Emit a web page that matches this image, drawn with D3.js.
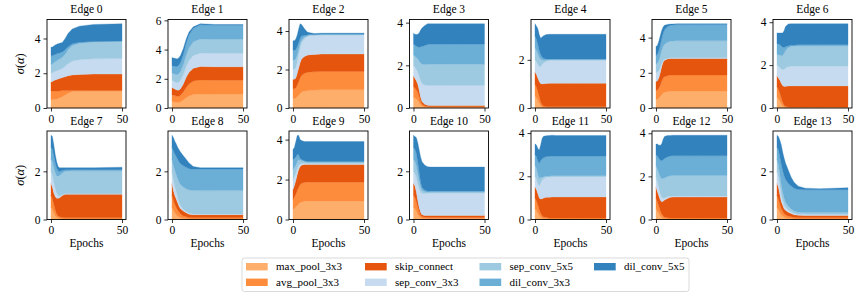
<html lang="en">
<head>
<meta charset="utf-8">
<script src="https://d3js.org/d3.v7.min.js"></script>
<style>
  body { margin: 0; background: #fff; }
  text { font-family: "Liberation Serif", "DejaVu Serif", serif; }
</style>
</head>
<body>
<svg id="chart" width="856" height="295"></svg>
<script>
const epochs = [0, 1, 2, 3, 4, 5, 6, 8, 10, 12, 15, 20, 30, 50];

const ops = ["max_pool_3x3", "avg_pool_3x3", "skip_connect", "sep_conv_3x3",
             "sep_conv_5x5", "dil_conv_3x3", "dil_conv_5x5"];
const colors = ["#fdae6b", "#fd8d3c", "#e6550d", "#c6dbef", "#9ecae1", "#6baed6", "#3182bd"];

// sigma(alpha) per op, one row per op in the order of `ops`
const edge0 = [
  [0.48,0.48,0.5,0.5,0.52,0.55,0.58,0.65,0.75,0.85,0.95,0.98,1.0,1.0],
  [0.5,0.5,0.48,0.46,0.44,0.42,0.4,0.35,0.25,0.15,0.05,0.02,0.0,0.0],
  [0.52,0.55,0.6,0.65,0.68,0.7,0.72,0.75,0.8,0.85,0.9,0.93,0.95,0.95],
  [0.5,0.5,0.5,0.5,0.5,0.5,0.5,0.52,0.6,0.7,0.8,0.85,0.88,0.9],
  [0.5,0.5,0.52,0.55,0.58,0.6,0.62,0.65,0.7,0.8,0.9,0.95,0.98,1.0],
  [0.5,0.48,0.45,0.42,0.4,0.38,0.35,0.3,0.25,0.18,0.1,0.05,0.02,0.0],
  [0.5,0.5,0.52,0.55,0.55,0.55,0.55,0.55,0.65,0.75,0.85,0.93,0.98,1.0]
];
const edge1 = [
  [0.45,0.42,0.4,0.38,0.37,0.38,0.42,0.55,0.7,0.82,0.92,0.96,0.95,0.95],
  [0.45,0.45,0.45,0.44,0.43,0.43,0.45,0.55,0.7,0.82,0.92,0.96,0.95,0.95],
  [0.5,0.48,0.45,0.43,0.42,0.43,0.45,0.55,0.7,0.8,0.88,0.92,0.92,0.92],
  [0.5,0.5,0.5,0.5,0.52,0.55,0.58,0.65,0.75,0.82,0.88,0.92,0.92,0.92],
  [0.5,0.5,0.52,0.53,0.55,0.57,0.6,0.67,0.78,0.86,0.93,0.97,0.96,0.96],
  [0.5,0.52,0.53,0.55,0.57,0.6,0.62,0.7,0.8,0.88,0.93,0.97,0.96,0.96],
  [0.55,0.55,0.55,0.55,0.52,0.5,0.48,0.4,0.3,0.2,0.1,0.07,0.06,0.06]
];
const edge2 = [
  [0.5,0.5,0.52,0.58,0.66,0.75,0.82,0.88,0.9,0.92,0.93,0.95,0.95,0.95],
  [0.5,0.5,0.52,0.6,0.7,0.8,0.87,0.92,0.94,0.95,0.95,0.95,0.95,0.95],
  [0.5,0.5,0.52,0.62,0.72,0.8,0.85,0.88,0.9,0.9,0.9,0.9,0.9,0.9],
  [0.5,0.52,0.55,0.6,0.68,0.78,0.85,0.92,0.97,1.0,1.0,1.0,1.0,1.0],
  [0.5,0.48,0.45,0.38,0.3,0.22,0.15,0.08,0.04,0.03,0.02,0.02,0.02,0.02],
  [0.5,0.5,0.48,0.42,0.35,0.28,0.2,0.1,0.05,0.03,0.02,0.02,0.02,0.02],
  [0.5,0.5,0.55,0.6,0.7,0.75,0.6,0.35,0.15,0.08,0.05,0.05,0.05,0.05]
];
const edge3 = [
  [0.5,0.47,0.42,0.36,0.26,0.15,0.08,0.04,0.03,0.03,0.03,0.03,0.03,0.03],
  [0.5,0.47,0.43,0.38,0.28,0.17,0.1,0.05,0.04,0.03,0.03,0.03,0.03,0.03],
  [0.5,0.46,0.43,0.38,0.3,0.2,0.12,0.08,0.06,0.06,0.06,0.06,0.06,0.06],
  [0.5,0.51,0.54,0.58,0.66,0.77,0.85,0.91,0.93,0.94,0.94,0.94,0.94,0.94],
  [0.5,0.52,0.55,0.6,0.7,0.82,0.9,0.96,0.99,0.99,0.99,0.99,0.99,0.99],
  [0.5,0.51,0.53,0.57,0.65,0.76,0.83,0.89,0.93,0.94,0.95,0.95,0.95,0.95],
  [0.5,0.52,0.55,0.59,0.67,0.78,0.87,0.94,0.97,0.96,0.95,0.95,0.95,0.95]
];
const edge4 = [
  [0.5,0.42,0.32,0.2,0.1,0.05,0.03,0.02,0.02,0.02,0.02,0.02,0.02,0.02],
  [0.5,0.45,0.38,0.28,0.15,0.08,0.05,0.03,0.03,0.03,0.03,0.03,0.03,0.03],
  [0.5,0.53,0.55,0.62,0.77,0.87,0.93,0.97,0.98,0.98,0.98,0.98,0.98,0.98],
  [0.5,0.52,0.56,0.62,0.7,0.8,0.86,0.92,0.94,0.95,0.95,0.95,0.95,0.95],
  [0.5,0.48,0.45,0.38,0.3,0.2,0.12,0.06,0.04,0.03,0.03,0.03,0.03,0.03],
  [0.5,0.45,0.4,0.3,0.2,0.12,0.07,0.03,0.02,0.02,0.02,0.02,0.02,0.02],
  [0.5,0.55,0.64,0.65,0.68,0.83,0.94,1.02,1.03,1.03,1.03,1.03,1.03,1.03]
];
const edge5 = [
  [0.5,0.5,0.55,0.65,0.75,0.85,0.9,0.93,0.95,0.95,0.95,0.95,0.95,0.95],
  [0.5,0.52,0.57,0.65,0.77,0.85,0.88,0.9,0.92,0.92,0.92,0.92,0.92,0.92],
  [0.5,0.53,0.58,0.7,0.83,0.9,0.93,0.95,0.95,0.95,0.95,0.95,0.95,0.95],
  [0.5,0.48,0.42,0.32,0.2,0.1,0.06,0.04,0.03,0.03,0.03,0.03,0.03,0.03],
  [0.5,0.52,0.58,0.65,0.72,0.8,0.86,0.92,0.95,0.96,0.97,0.97,0.97,0.97],
  [0.5,0.5,0.55,0.6,0.68,0.75,0.82,0.88,0.9,0.91,0.92,0.92,0.92,0.92],
  [0.5,0.5,0.55,0.53,0.45,0.35,0.25,0.13,0.07,0.06,0.05,0.05,0.05,0.05]
];
const edge6 = [
  [0.5,0.42,0.32,0.2,0.1,0.05,0.03,0.02,0.02,0.02,0.02,0.02,0.02,0.02],
  [0.5,0.45,0.38,0.28,0.17,0.08,0.05,0.03,0.03,0.03,0.03,0.03,0.03,0.03],
  [0.5,0.53,0.6,0.67,0.78,0.87,0.93,0.97,0.98,0.98,0.98,0.98,0.98,0.98],
  [0.5,0.55,0.6,0.67,0.73,0.8,0.85,0.9,0.92,0.92,0.92,0.92,0.92,0.92],
  [0.5,0.53,0.57,0.62,0.67,0.75,0.82,0.9,0.93,0.94,0.95,0.95,0.95,0.95],
  [0.5,0.5,0.48,0.45,0.38,0.28,0.18,0.08,0.05,0.05,0.05,0.05,0.05,0.05],
  [0.5,0.52,0.55,0.61,0.67,0.77,0.94,1.02,1.0,0.99,0.98,0.98,0.98,0.98]
];
const edge7 = [
  [0.5,0.4,0.28,0.15,0.08,0.05,0.03,0.02,0.02,0.02,0.02,0.02,0.02,0.02],
  [0.5,0.45,0.35,0.25,0.15,0.1,0.08,0.06,0.05,0.05,0.05,0.05,0.05,0.05],
  [0.5,0.5,0.47,0.55,0.65,0.73,0.79,0.92,0.98,0.98,0.98,0.98,0.98,0.98],
  [0.5,0.5,0.45,0.35,0.22,0.12,0.07,0.03,0.02,0.02,0.02,0.02,0.02,0.02],
  [0.5,0.55,0.6,0.65,0.72,0.8,0.86,0.9,0.93,0.94,0.95,0.95,0.95,0.95],
  [0.5,0.52,0.5,0.42,0.33,0.22,0.17,0.1,0.07,0.06,0.05,0.05,0.05,0.05],
  [0.5,0.53,0.45,0.33,0.25,0.18,0.15,0.12,0.08,0.08,0.08,0.08,0.08,0.1]
];
const edge8 = [
  [0.5,0.38,0.28,0.2,0.14,0.1,0.07,0.04,0.03,0.02,0.02,0.02,0.02,0.02],
  [0.5,0.42,0.35,0.3,0.25,0.2,0.16,0.11,0.08,0.06,0.05,0.05,0.05,0.05],
  [0.5,0.4,0.37,0.35,0.31,0.25,0.22,0.2,0.17,0.14,0.13,0.13,0.13,0.13],
  [0.5,0.45,0.38,0.3,0.22,0.16,0.12,0.07,0.05,0.04,0.03,0.03,0.03,0.03],
  [0.5,0.6,0.66,0.72,0.78,0.84,0.88,0.93,0.95,0.96,0.97,0.97,0.97,0.97],
  [0.5,0.6,0.68,0.75,0.8,0.85,0.87,0.88,0.89,0.89,0.89,0.9,0.9,0.9],
  [0.5,0.55,0.53,0.52,0.5,0.5,0.48,0.42,0.33,0.24,0.11,0.05,0.05,0.05]
];
const edge9 = [
  [0.5,0.55,0.62,0.7,0.78,0.84,0.88,0.9,0.92,0.92,0.92,0.92,0.92,0.92],
  [0.5,0.57,0.65,0.75,0.84,0.9,0.93,0.95,0.95,0.95,0.95,0.95,0.95,0.95],
  [0.5,0.58,0.68,0.8,0.88,0.91,0.91,0.9,0.88,0.88,0.88,0.88,0.88,0.88],
  [0.5,0.45,0.38,0.3,0.2,0.12,0.08,0.06,0.05,0.05,0.05,0.05,0.05,0.05],
  [0.5,0.45,0.4,0.35,0.3,0.2,0.15,0.1,0.08,0.08,0.08,0.08,0.08,0.08],
  [0.5,0.45,0.4,0.35,0.25,0.1,0.05,0.03,0.02,0.02,0.02,0.02,0.02,0.02],
  [0.5,0.55,0.77,0.95,0.97,0.93,0.95,0.96,1.0,1.0,1.0,1.0,1.0,1.0]
];
const edge10 = [
  [0.5,0.45,0.35,0.22,0.12,0.06,0.04,0.03,0.03,0.03,0.03,0.03,0.03,0.03],
  [0.5,0.47,0.4,0.3,0.2,0.12,0.08,0.06,0.05,0.05,0.05,0.05,0.05,0.05],
  [0.5,0.48,0.4,0.28,0.18,0.12,0.08,0.08,0.09,0.09,0.09,0.09,0.09,0.09],
  [0.5,0.52,0.6,0.7,0.78,0.84,0.88,0.91,0.92,0.93,0.93,0.93,0.93,0.93],
  [0.5,0.5,0.5,0.45,0.35,0.22,0.13,0.07,0.05,0.05,0.05,0.05,0.05,0.05],
  [0.5,0.5,0.5,0.45,0.35,0.22,0.12,0.06,0.04,0.03,0.03,0.03,0.03,0.03],
  [0.5,0.53,0.65,0.8,0.92,1.02,1.07,1.04,1.01,1.0,1.0,1.0,1.0,1.0]
];
const edge11 = [
  [0.5,0.42,0.3,0.18,0.1,0.06,0.04,0.03,0.02,0.02,0.02,0.02,0.02,0.02],
  [0.5,0.45,0.38,0.28,0.18,0.12,0.08,0.06,0.05,0.05,0.05,0.05,0.05,0.05],
  [0.5,0.53,0.52,0.54,0.67,0.77,0.88,0.94,0.96,0.97,0.97,0.97,0.97,0.97],
  [0.5,0.48,0.45,0.55,0.75,0.85,0.9,0.93,0.94,0.95,0.95,0.95,0.95,0.95],
  [0.5,0.5,0.45,0.35,0.25,0.15,0.08,0.05,0.04,0.03,0.03,0.03,0.03,0.03],
  [0.5,0.55,0.62,0.7,0.78,0.85,0.88,0.9,0.91,0.92,0.92,0.92,0.92,0.92],
  [0.5,0.52,0.58,0.6,0.72,0.95,0.99,0.97,0.97,0.96,0.95,0.95,0.95,0.95]
];
const edge12 = [
  [0.5,0.4,0.28,0.16,0.09,0.05,0.03,0.02,0.02,0.02,0.02,0.02,0.02,0.02],
  [0.5,0.42,0.35,0.26,0.17,0.12,0.08,0.06,0.05,0.05,0.05,0.05,0.05,0.05],
  [0.5,0.48,0.47,0.48,0.56,0.68,0.79,0.9,0.96,0.97,0.97,0.97,0.97,0.97],
  [0.5,0.45,0.38,0.3,0.22,0.15,0.1,0.07,0.05,0.05,0.05,0.05,0.05,0.05],
  [0.5,0.6,0.68,0.78,0.85,0.9,0.93,0.94,0.95,0.95,0.95,0.95,0.95,0.95],
  [0.5,0.6,0.68,0.77,0.83,0.87,0.9,0.91,0.92,0.92,0.92,0.92,0.92,0.92],
  [0.5,0.55,0.61,0.7,0.78,0.95,1.02,1.0,0.95,0.95,0.95,0.95,0.95,0.95]
];
const edge13 = [
  [0.5,0.4,0.3,0.2,0.15,0.1,0.07,0.04,0.03,0.02,0.02,0.02,0.02,0.02],
  [0.5,0.45,0.35,0.25,0.2,0.15,0.13,0.1,0.08,0.06,0.05,0.05,0.05,0.05],
  [0.5,0.5,0.4,0.3,0.25,0.2,0.18,0.16,0.14,0.12,0.11,0.1,0.1,0.1],
  [0.5,0.45,0.38,0.3,0.22,0.17,0.13,0.09,0.07,0.05,0.04,0.04,0.04,0.04],
  [0.5,0.48,0.45,0.4,0.33,0.28,0.22,0.16,0.12,0.1,0.08,0.08,0.08,0.08],
  [0.5,0.62,0.75,0.85,0.9,0.92,0.94,0.95,0.95,0.95,0.95,0.95,0.95,0.95],
  [0.5,0.55,0.67,0.8,0.75,0.73,0.68,0.55,0.36,0.25,0.13,0.06,0.04,0.08]
];

const edges = [edge0, edge1, edge2, edge3, edge4, edge5, edge6,
               edge7, edge8, edge9, edge10, edge11, edge12, edge13];

// layout
const panelW = 79, panelH = 88.5;
const lefts = [47, 168, 289, 409.5, 531, 652, 773];
const tops = [19.5, 131];
const serif = "'Liberation Serif', 'DejaVu Serif', serif";

const svg = d3.select("#chart");

const x = d3.scaleLinear().domain([-2.8, 52.8]).range([0, panelW]);

edges.forEach(function(series, k) {
  const row = Math.floor(k / 7), col = k % 7;
  const g = svg.append("g")
    .attr("transform", `translate(${lefts[col]},${tops[row]})`);

  // rows for d3.stack
  const table = epochs.map(function(e, i) {
    const r = { epoch: e };
    ops.forEach((op, j) => r[op] = series[j][i]);
    return r;
  });
  const stacked = d3.stack().keys(ops)(table);
  const top = d3.max(stacked[stacked.length - 1], d => d[1]);

  const y = d3.scaleLinear().domain([0, top * 1.05]).range([panelH, 0]);

  const area = d3.area()
    .x(d => x(d.data.epoch))
    .y0(d => y(d[0]))
    .y1(d => y(d[1]));

  g.selectAll("path.layer")
    .data(stacked)
    .enter().append("path")
    .attr("class", "layer")
    .attr("d", area)
    .attr("fill", (d, i) => colors[i])
    .attr("stroke", (d, i) => colors[i])
    .attr("stroke-width", 0.3);

  // axes
  const yTicks = d3.range(0, top * 1.05 + 1e-9, 2);
  const yAxis = d3.axisLeft(y).tickValues(yTicks).tickSize(3.5).tickPadding(3).tickFormat(d3.format("d"));
  const xAxis = d3.axisBottom(x).tickValues([0, 50]).tickSize(3.5).tickPadding(3);

  const ya = g.append("g").call(yAxis);
  const xa = g.append("g").attr("transform", `translate(0,${panelH})`).call(xAxis);
  [ya, xa].forEach(function(a) {
    a.attr("font-family", serif).attr("font-size", 11.5);
    a.select(".domain").remove();
    a.selectAll("line").attr("stroke", "#000").attr("stroke-width", 0.8);
    a.selectAll("text").attr("fill", "#000").style("font-family", serif);
  });

  // frame
  g.append("rect")
    .attr("width", panelW).attr("height", panelH)
    .attr("fill", "none").attr("stroke", "#000").attr("stroke-width", 0.9);

  // title
  g.append("text")
    .attr("x", panelW / 2).attr("y", -6.5)
    .attr("text-anchor", "middle")
    .attr("font-size", 11.5)
    .style("font-family", serif)
    .text("Edge " + k);

  if (row === 1) {
    g.append("text")
      .attr("x", panelW / 2).attr("y", panelH + 27)
      .attr("text-anchor", "middle")
      .attr("font-size", 11.5)
      .style("font-family", serif)
      .text("Epochs");
  }
  if (col === 0) {
    g.append("text")
      .attr("transform", `translate(-23,${panelH / 2}) rotate(-90)`)
      .attr("text-anchor", "middle")
      .attr("font-size", 12.5)
      .style("font-family", serif)
      .html('<tspan font-style="italic">σ</tspan>(<tspan font-style="italic">α</tspan>)');
  }
});

// legend
const legendCols = [246, 365, 479.5, 594];
const legendRows = [266.7, 282.3];
const legend = svg.append("g");
legend.append("rect")
  .attr("x", 242).attr("y", 258).attr("width", 447).attr("height", 33.5)
  .attr("rx", 2.5).attr("fill", "#fff").attr("stroke", "#d5d5d5").attr("stroke-width", 0.9);

ops.forEach(function(op, i) {
  const cx = legendCols[Math.floor(i / 2)];
  const cy = legendRows[i % 2];
  legend.append("rect")
    .attr("x", cx).attr("y", cy - 3.7)
    .attr("width", 21.7).attr("height", 7.4)
    .attr("fill", colors[i]);
  legend.append("text")
    .attr("x", cx + 30).attr("y", cy + 3.6)
    .attr("font-size", 11)
    .style("font-family", serif)
    .text(op);
});
</script>
</body>
</html>
